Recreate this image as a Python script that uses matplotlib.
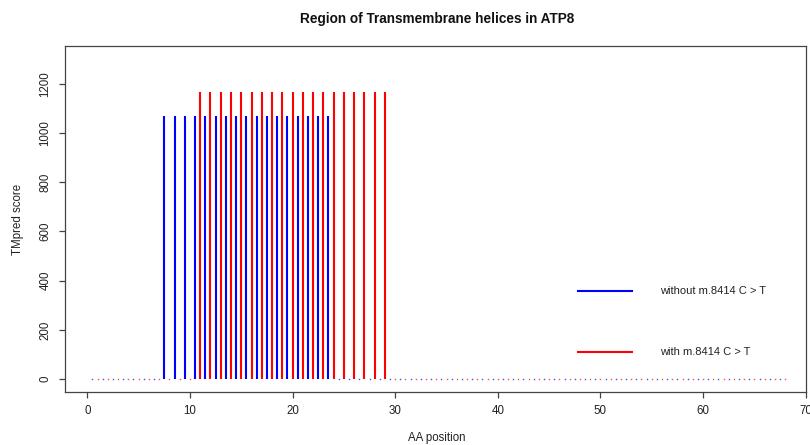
import numpy as np
from matplotlib import pyplot as plt

plt.rcParams["font.family"] = ["Liberation Sans", "DejaVu Sans"]

# TMpred scores per residue of ATP8 (68 aa)
pos_without = np.arange(0.5, 68.0, 1.0)
score_without = [0] * 7 + [1067] * 17 + [0] * 44

pos_with = np.arange(1, 69, 1)
score_with = [0] * 10 + [1166] * 19 + [0] * 39

xticks = [0, 10, 20, 30, 40, 50, 60, 70]
yticks = [0, 200, 400, 600, 800, 1000, 1200]

label_without = "without m.8414 C > T"
label_with = "with m.8414 C > T"

fig = plt.figure(figsize=(8.1, 4.45), dpi=100)
ax = fig.add_axes([0.0799, 0.1191, 0.9148, 0.7782])

# R style type="h": vertical lines, zero heights show as dots
for pos, score, col in [(pos_without, score_without, "blue"), (pos_with, score_with, "red")]:
    score = np.array(score)
    nz = score > 0
    ax.vlines(pos[nz], 0, score[nz], colors=col, lw=1.5)
    ax.plot(pos[~nz], score[~nz], linestyle="none", marker="s", markersize=1.0,
            markeredgewidth=0, color=col, alpha=0.7)

ax.set_xlim(-2.2, 70.0)
ax.set_ylim(-52, 1354)
ax.set_xticks(xticks)
ax.set_yticks(yticks)
ax.tick_params(direction="out", length=4.5, width=0.9, color="#444",
               labelsize=8.3, labelcolor="#222")
ax.tick_params(axis="x", pad=5)
ax.tick_params(axis="y", pad=5, labelrotation=90)
for lab in ax.get_yticklabels():
    lab.set_va("center")
for sp in ax.spines.values():
    sp.set_color("#444")
    sp.set_linewidth(0.9)

fig.text(0.5395, 0.957, "Region of Transmembrane helices in ATP8", ha="center",
         va="center", fontsize=9.8, fontweight="bold", color="#111")
fig.text(0.5395, 0.016, "AA position", ha="center", va="center", fontsize=8.3, color="#222")
fig.text(0.022, 0.508, "TMpred score", ha="center", va="center", rotation=90,
         fontsize=8.3, color="#222")

# legend, no box
for y, col, lab in [(291, "blue", label_without), (352, "red", label_with)]:
    fy = 1 - y / 445
    fig.add_artist(plt.Line2D([578 / 810, 632 / 810], [fy, fy], color=col, lw=1.5))
    fig.text(660 / 810, fy, lab, ha="left", va="center", fontsize=8, color="#222")

fig.savefig("out.png", dpi=100)
